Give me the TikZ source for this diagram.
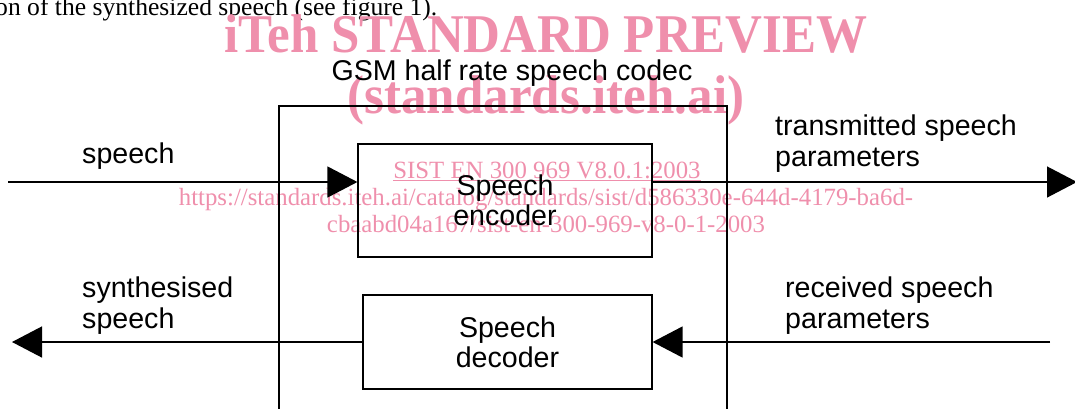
\documentclass[tikz,border=0pt]{standalone}
\usepackage{fontspec}
\usepackage{graphicx}
\setmainfont{Liberation Serif}
\newfontfamily\arialf{Liberation Sans}
\usetikzlibrary{arrows.meta}
\definecolor{wmpink}{RGB}{239,143,172}
\newcommand{\wmtall}[1]{\scalebox{1}[1.07]{#1}}
\begin{document}
\begin{tikzpicture}[x=1pt,y=-1pt,
  lbl/.style={font=\arialf\fontsize{28.6}{31}\selectfont, align=left, anchor=base west, inner sep=0pt},
  blk/.style={draw, line width=1.2pt, font=\arialf\fontsize{28.6}{30}\selectfont, align=center, inner sep=0pt},
  wmbig/.style={text=wmpink, inner sep=0pt, anchor=base, font=\bfseries\fontsize{51}{51}\selectfont},
  wmsmall/.style={text=wmpink, inner sep=0pt, anchor=base, font=\fontsize{24.8}{24.8}\selectfont},
  conn/.style={line width=1.3pt},
  arr/.style={conn, -{Triangle[length=30pt,width=31pt]}}
]
\useasboundingbox (0,0) rectangle (1075,408);
\clip (0,0) rectangle (1075,408);

% page text
\node[anchor=base west, inner sep=0pt, font=\fontsize{25.6}{25.6}\selectfont] (pagetext) at (-5,15) {on of the synthesized speech (see figure 1).};

% watermark
\node[wmbig] (wm1) at (546,52) {\wmtall{iTeh STANDARD PREVIEW}};
\node[wmbig] (wm2) at (546,113) {\wmtall{(standards.iteh.ai)}};
\node[wmsmall] (wm3) at (547,178) {\underline{SIST EN 300 969 V8.0.1:2003}};
\node[wmsmall] (wm4) at (546,205) {https://standards.iteh.ai/catalog/standards/sist/d586330e-644d-4179-ba6d-};
\node[wmsmall] (wm5) at (546,232) {cbaabd04a167/sist-en-300-969-v8-0-1-2003};

% codec frame
\node[draw, line width=1.2pt, minimum width=448pt, minimum height=360pt, inner sep=0pt] (codec) at (503,286) {};
\node[anchor=base, inner sep=0pt, font=\arialf\fontsize{28.6}{31}\selectfont] (title) at (512,80) {GSM half rate speech codec};

% blocks
\node[blk, minimum width=294pt, minimum height=113pt] (enc) at (505,200.5) {Speech\\encoder};
\node[blk, minimum width=289pt, minimum height=94pt] (dec) at (507.5,342) {Speech\\decoder};

% labels (anchor is the baseline of the last line)
\node[lbl] (lspeech) at (82,163) {speech};
\node[lbl] (ltx) at (775,166) {transmitted speech\\parameters};
\node[lbl] (lsyn) at (82,328) {synthesised\\speech};
\node[lbl] (lrx) at (785,328) {received speech\\parameters};

% connectors
\coordinate (spin) at (8,182);
\coordinate (tpout) at (1077,182);
\coordinate (rpin) at (1050,342);
\coordinate (ssout) at (12,342);
\draw[arr] (spin) -- (spin -| enc.west);
\draw[arr] (spin -| enc.east) -- (tpout);
\draw[arr] (rpin) -- (dec.east);
\draw[arr] (dec.west) -- (ssout);
\end{tikzpicture}
\end{document}
